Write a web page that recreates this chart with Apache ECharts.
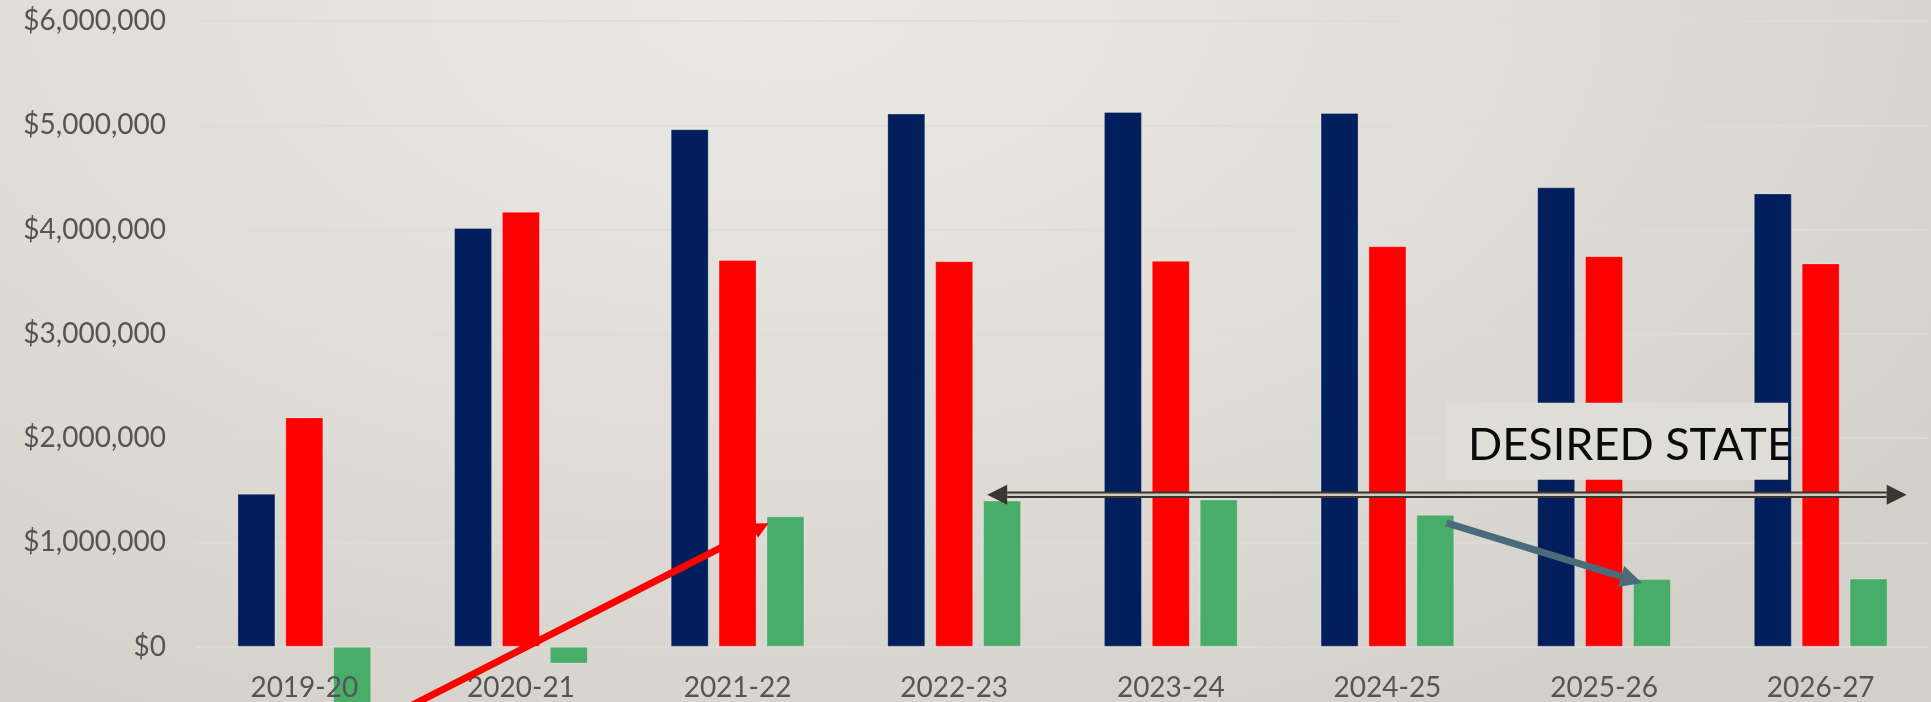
<!DOCTYPE html>
<html>
<head>
<meta charset="utf-8">
<title>Revenue vs expenses by year</title>
<script src="https://cdn.jsdelivr.net/npm/echarts@6/dist/echarts.min.js"></script>
<style>
  html, body { margin: 0; padding: 0; }
  #chart {
    width: 1931px;
    height: 702px;
    background: radial-gradient(ellipse 75% 120% at 40% 0%, #ebe9e5 0%, #e0ddd8 55%, #d3d0c9 100%);
  }
</style>
</head>
<body>
<div id="chart"></div>
<script>
// fiscal years on the x axis
const years = ["2019-20", "2020-21", "2021-22", "2022-23", "2023-24", "2024-25", "2025-26", "2026-27"];
// dark blue bars
const revenue = [1466000, 4016000, 4962000, 5112000, 5128000, 5119000, 4405000, 4347000];
// red bars
const expenses = [2199000, 4170000, 3709000, 3697000, 3700000, 3841000, 3745000, 3675000];
// green bars
const balance = [-733000, -160000, 1250000, 1402000, 1412000, 1265000, 650000, 653000];
// y axis ticks (the -1M row sits below the visible area)
const yMin = -1000000;
const yMax = 6000000;
const yStep = 1000000;
// level of the "desired state" arrow
const desiredLevel = 1457000;

const fmtMoney = v => "$" + String(v).replace(/\B(?=(\d{3})+(?!\d))/g, ",");

const gridTop = 21;
const gridBottom = -49;
const gridHeight = 702 - gridTop - gridBottom;
// lift the category labels from the grid bottom up to the $0 line
const zeroLift = gridHeight * (0 - yMin) / (yMax - yMin);

const chart = echarts.init(document.getElementById("chart"));

const option = {
  backgroundColor: "transparent",
  animation: false,
  textStyle: { fontFamily: "Lato" },
  grid: {
    left: 196,
    right: 2,
    top: gridTop,
    bottom: gridBottom,
    containLabel: false,
    outerBoundsMode: "none"
  },
  xAxis: {
    type: "category",
    data: years,
    position: "bottom",
    offset: -zeroLift,
    z: 20,
    axisLine: { show: false, onZero: false },
    axisTick: { show: false },
    axisLabel: {
      color: "#555555",
      fontSize: 28,
      fontFamily: "Lato",
      margin: 27
    },
    splitLine: { show: false }
  },
  yAxis: {
    type: "value",
    min: yMin,
    max: yMax,
    interval: yStep,
    axisLine: { show: false },
    axisTick: { show: false },
    axisLabel: {
      color: "#555555",
      fontSize: 28,
      fontFamily: "Lato",
      margin: 30,
      formatter: v => (v < 0 ? "" : fmtMoney(v))
    },
    splitLine: {
      lineStyle: { color: "#dcdcdc", width: 1.5 }
    }
  },
  series: [
    {
      name: "Revenue",
      type: "bar",
      data: revenue,
      barWidth: 38,
      barGap: "26%",
      z: 2,
      itemStyle: { color: "#001f5c", borderColor: "rgba(255,255,255,0.25)", borderWidth: 1 }
    },
    {
      name: "Expenses",
      type: "bar",
      data: expenses,
      barWidth: 38,
      barGap: "26%",
      z: 2,
      itemStyle: { color: "#ff0000", borderColor: "rgba(255,255,255,0.25)", borderWidth: 1 }
    },
    {
      name: "Balance",
      type: "bar",
      data: balance,
      barWidth: 38,
      barGap: "26%",
      z: 2,
      itemStyle: { color: "#48ad68", borderColor: "rgba(255,255,255,0.25)", borderWidth: 1 }
    }
  ]
};

chart.setOption(option);

// --- annotations, placed from the chart's own scales ---
const slot = 48; // bar width + gap
const px = (cat, val) => chart.convertToPixel({ gridIndex: 0 }, [cat, val]);

function head(x1, y1, x2, y2, len, w) {
  const d = Math.hypot(x2 - x1, y2 - y1);
  const ux = (x2 - x1) / d, uy = (y2 - y1) / d;
  const bx = x2 - ux * len, by = y2 - uy * len;
  return {
    base: [bx, by],
    points: [[x2, y2], [bx - uy * w / 2, by + ux * w / 2], [bx + uy * w / 2, by - ux * w / 2]]
  };
}

function arrow(x1, y1, x2, y2, lw, len, w, color) {
  const h = head(x1, y1, x2, y2, len, w);
  return [
    { type: "line", z: 50, silent: true, shape: { x1: x1, y1: y1, x2: h.base[0], y2: h.base[1] },
      style: { stroke: color, lineWidth: lw } },
    { type: "polygon", z: 50, silent: true, shape: { points: h.points }, style: { fill: color } }
  ];
}

const g = [];

// red arrow rising to the 2021-22 balance
const redTip = px("2021-22", balance[2]);
const rtx = redTip[0] + 31, rty = redTip[1] + 7;
g.push(...arrow(rtx - 400, rty + 0.51 * 400, rtx, rty, 7, 16, 16, "#ff0000"));

// desired state double arrow
const dl = px("2022-23", desiredLevel);
const dr = px("2026-27", desiredLevel);
const lx = dl[0] + 33, rx = dr[0] + 86, dy = dl[1];
const hl = head(rx, dy, lx, dy, 20, 20);
const hr = head(lx, dy, rx, dy, 20, 20);
g.push({ type: "line", z: 50, silent: true, shape: { x1: hl.base[0], y1: dy, x2: hr.base[0], y2: dy },
  style: { stroke: "#3b362f", lineWidth: 6.5 } });
g.push({ type: "line", z: 51, silent: true, shape: { x1: hl.base[0], y1: dy, x2: hr.base[0], y2: dy },
  style: { stroke: "#cfcbc3", lineWidth: 2.5 } });
g.push({ type: "polygon", z: 51, silent: true, shape: { points: hl.points }, style: { fill: "#3b362f" } });
g.push({ type: "polygon", z: 51, silent: true, shape: { points: hr.points }, style: { fill: "#3b362f" } });

// label box
const boxAnchor = px("2025-26", desiredLevel);
g.push({ type: "rect", z: 52, silent: true,
  shape: { x: boxAnchor[0] - 158, y: dy - 92, width: 342, height: 77 },
  style: { fill: "#dfddd8" } });
g.push({ type: "text", z: 53, silent: true,
  style: { text: "DESIRED STATE", x: boxAnchor[0] - 136, y: dy - 49,
    font: "45px Lato", fill: "#0a0a0a", align: "left", verticalAlign: "middle" } });

// slate arrow from 2024-25 balance down to 2025-26 balance
const gs = px("2024-25", balance[5]);
const ge = px("2025-26", balance[6]);
g.push(...arrow(gs[0] + slot + 11, gs[1] + 8, ge[0] + slot - 10, ge[1] + 4, 7, 22, 22, "#4b6b7a"));

chart.setOption({ graphic: g });
</script>
</body>
</html>
